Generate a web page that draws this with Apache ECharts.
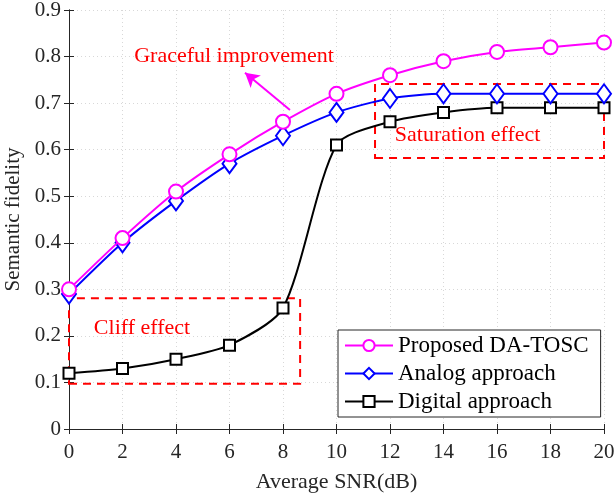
<!DOCTYPE html>
<html><head><meta charset="utf-8">
<script src="https://cdn.jsdelivr.net/npm/echarts@6/dist/echarts.min.js"></script>
<style>html,body{margin:0;padding:0;background:#fff}#c{width:615px;height:495px}</style>
</head><body><div id="c"></div>
<script>
const snr = [0, 2, 4, 6, 8, 10, 12, 14, 16, 18, 20];
const proposed = [0.30, 0.41, 0.51, 0.59, 0.66, 0.72, 0.76, 0.79, 0.81, 0.82, 0.83];
const analog = [0.29, 0.40, 0.49, 0.57, 0.63, 0.68, 0.71, 0.72, 0.72, 0.72, 0.72];
const digital = [0.12, 0.13, 0.15, 0.18, 0.26, 0.61, 0.66, 0.68, 0.69, 0.69, 0.69];
const seriesNames = ['Proposed DA-TOSC', 'Analog approach', 'Digital approach'];
const cliffBox = [[0, 0.097], [8.64, 0.281]];
const satBox = [[11.44, 0.582], [20, 0.741]];
const arrowLine = [[8.26, 0.685], [6.58, 0.765]];
const notes = [
  {text: 'Graceful improvement', x: 6.17, y: 0.80},
  {text: 'Saturation effect', x: 14.9, y: 0.632},
  {text: 'Cliff effect', x: 2.73, y: 0.217}
];

const font = 'Liberation Serif';
const dark = '#262626';
const pair = (xs, ys) => xs.map((x, i) => [x, ys[i]]);

const chart = echarts.init(document.getElementById('c'));
const axisCommon = {
  axisLine: {show: true, lineStyle: {color: dark, width: 1}},
  axisTick: {show: true, inside: true, length: 5, lineStyle: {color: dark}},
  axisLabel: {color: dark, fontFamily: font, fontSize: 21},
};
chart.setOption({
  animation: false,
  backgroundColor: '#fff',
  grid: {left: 69, right: 11, top: 10, bottom: 66, containLabel: false, outerBoundsMode: 'none'},
  legend: {
    data: seriesNames, orient: 'vertical', left: 338, top: 330,
    backgroundColor: '#fff', borderColor: dark, borderWidth: 1,
    padding: [4, 12, 4, 6], itemGap: 5, itemWidth: 48, itemHeight: 14,
    textStyle: {fontFamily: font, fontSize: 23, color: '#000'}
  },
  xAxis: [{
    type: 'value', min: 0, max: 20, interval: 2,
    name: 'Average SNR(dB)', nameLocation: 'middle', nameGap: 42,
    nameTextStyle: {fontFamily: font, fontSize: 22, color: dark},
    ...axisCommon,
    axisLabel: {...axisCommon.axisLabel, margin: 13},
    splitLine: {show: true, lineStyle: {color: '#d8d8d8', type: [1, 3], width: 1}}
  }, {
    type: 'value', position: 'top', min: 0, max: 20, interval: 2,
    ...axisCommon, axisLabel: {show: false}, splitLine: {show: false}
  }],
  yAxis: [{
    type: 'value', min: 0, max: 0.9, interval: 0.1,
    name: 'Semantic fidelity', nameLocation: 'middle', nameGap: 42,
    nameTextStyle: {fontFamily: font, fontSize: 21, color: dark},
    ...axisCommon,
    axisLabel: {...axisCommon.axisLabel, margin: 8,
      formatter: v => v === 0 ? '0' : v.toFixed(1)},
    splitLine: {show: true, lineStyle: {color: '#d8d8d8', type: [1, 3], width: 1}}
  }, {
    type: 'value', position: 'right', min: 0, max: 0.9, interval: 0.1,
    ...axisCommon, axisLabel: {show: false}, splitLine: {show: false}
  }],
  series: [
    {
      name: seriesNames[0], type: 'line', data: pair(snr, proposed), smooth: 0.25,
      symbol: 'circle', symbolSize: 14, clip: false,
      lineStyle: {color: '#ff00ff', width: 2},
      itemStyle: {color: '#fff', borderColor: '#ff00ff', borderWidth: 2},
      markLine: {
        silent: true, symbol: ['none', 'arrow'], symbolSize: [12, 14],
        lineStyle: {color: '#ff00ff', width: 2, type: 'solid'},
        label: {show: false},
        data: [[{coord: arrowLine[0]}, {coord: arrowLine[1]}]]
      },
      markPoint: {
        symbol: 'circle', symbolSize: 0, silent: true,
        label: {show: true, color: '#ff0000', fontFamily: font, fontSize: 22,
          formatter: p => p.name},
        data: notes.map(n => ({name: n.text, coord: [n.x, n.y]}))
      },
      z: 4
    },
    {
      name: seriesNames[1], type: 'line', data: pair(snr, analog), smooth: 0.25,
      symbol: 'diamond', symbolSize: [14, 19], clip: false,
      lineStyle: {color: '#0000ff', width: 2},
      itemStyle: {color: '#fff', borderColor: '#0000ff', borderWidth: 2},
      z: 3
    },
    {
      name: seriesNames[2], type: 'line', data: pair(snr, digital), smooth: 0.25,
      symbol: 'rect', symbolSize: 11, clip: false,
      lineStyle: {color: '#000', width: 2},
      itemStyle: {color: '#fff', borderColor: '#000', borderWidth: 2},
      markArea: {
        silent: true,
        itemStyle: {color: 'rgba(0,0,0,0)', borderColor: '#ff0000', borderWidth: 2, borderType: [8, 6]},
        data: [
          [{coord: cliffBox[0]}, {coord: cliffBox[1]}],
          [{coord: satBox[0]}, {coord: satBox[1]}]
        ]
      },
      z: 2
    }
  ]
});
</script></body></html>
